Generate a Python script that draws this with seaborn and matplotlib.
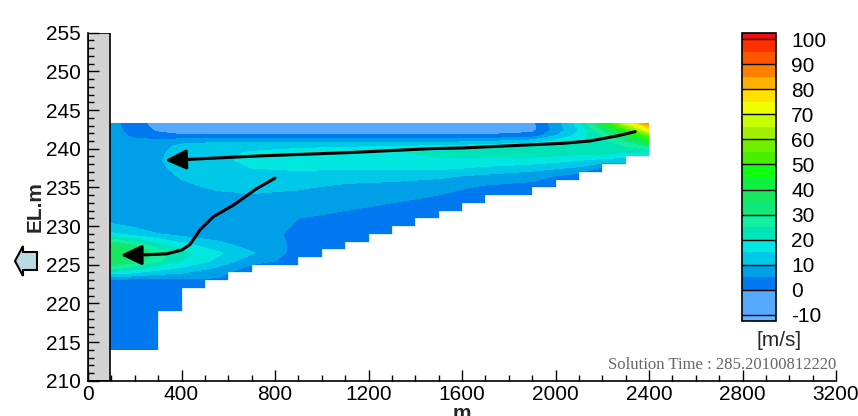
import numpy as np
import matplotlib
matplotlib.use('Agg')
import matplotlib.pyplot as plt
import seaborn as sns
from matplotlib.patches import Rectangle, Polygon
from matplotlib.ticker import MultipleLocator

# sample positions of the velocity field
dist_m = [95, 200, 300, 400, 550, 700, 900, 1100, 1300, 1500, 1700, 1900, 2100, 2200, 2300, 2400]
elev_m = [214, 220, 223, 224.5, 225.5, 226.5, 227.5, 229, 231, 233, 235, 236.5,
          237.5, 238.5, 239.5, 240.3, 241, 241.7, 242.4, 243.3]

# velocity [m/s], one list per distance, from the bottom up to the surface
vel_cols = [
    [3, 3, 3, 26, 38, 39, 36, 16, 7, 7, 7, 7, 7, 7, 7, 7, 7, 7, 7, 7],                       # 95
    [3, 3, 3, 22, 33, 36, 30, 12, 7, 7, 7, 7, 8, 8, 8, 8, 6, 4, 3, 2],                       # 200
    [3, 3, 3, 17, 26, 28, 22, 10, 7, 7, 7, 8, 9, 9.5, 9, 8, 6, 2, -1, -2],                   # 300
    [3, 3, 4, 14, 20, 22, 17, 8, 7, 7, 9, 10.5, 11.5, 12, 12, 11.5, 8, 0.5, -2.5, -3],       # 400
    [3, 3, 4, 9, 14, 16, 12, 7, 7, 8, 10.5, 12, 13, 14, 13.5, 12.5, 9, 0.5, -2.5, -3],       # 550
    [3, 3, 3, 3, 7, 10.5, 8, 7, 7, 8.5, 11, 13, 15, 16, 15.5, 13, 9, 0.5, -2.5, -3],         # 700
    [3, 3, 3, 3, 3, 3, 4, 4, 5, 7.5, 10.5, 13, 16, 17.5, 17, 14, 8.5, 0.5, -2.5, -3],        # 900
    [2, 2, 2, 2, 2, 2, 2, 3, 4, 6, 9, 12, 15.5, 18, 18, 14.5, 8.5, 0.5, -2.5, -3],           # 1100
    [2, 2, 2, 2, 2, 2, 2, 2, 3, 5, 8, 12, 16, 19, 19.5, 15, 8.5, 0.5, -2.5, -3],             # 1300
    [2, 2, 2, 2, 2, 2, 2, 2, 2, 3, 7, 11, 16, 19.5, 21, 16, 8, 0.5, -2.5, -3],               # 1500
    [2, 2, 2, 2, 2, 2, 2, 2, 2, 2, 4, 9, 14, 18.5, 22, 18, 9, 0.5, -2.5, -3],                # 1700
    [2, 2, 2, 2, 2, 2, 2, 2, 2, 2, 3, 7, 12, 18, 23, 20, 12, 2, -1.5, -1.5],                 # 1900
    [2, 2, 2, 2, 2, 2, 2, 2, 2, 2, 2, 3, 9, 15, 22, 22, 19, 17, 15, 17],                     # 2100
    [2, 2, 2, 2, 2, 2, 2, 2, 2, 2, 2, 2, 4, 13, 22, 23, 23, 25, 30, 42],                     # 2200
    [2, 2, 2, 2, 2, 2, 2, 2, 2, 2, 2, 2, 3, 12, 20, 25, 30, 38, 50, 68],                     # 2300
    [2, 2, 2, 2, 2, 2, 2, 2, 2, 2, 2, 2, 3, 12, 20, 30, 45, 55, 72, 88],                     # 2400
]

# stepped reservoir bed
bed_edges = [95, 300, 400, 500, 600, 700, 900, 1000, 1100, 1200, 1300, 1400, 1500,
             1600, 1700, 1900, 2000, 2100, 2200, 2300, 2400]
bed_elev = [214, 219, 222, 223, 224, 225, 226, 227, 228, 229, 230, 231, 232,
            233, 234, 235, 236, 237, 238, 239]

# sketched flow paths (last point = arrow tip)
flow_upper_x = [2341, 2262, 2148, 2034, 1891, 1749, 1606, 1463, 1121, 719, 419, 330]
flow_upper_z = [242.2, 241.65, 241.0, 240.7, 240.5, 240.3, 240.1, 240.0, 239.5, 239.05, 238.6, 238.5]
flow_lower_x = [800, 720, 622, 536, 479, 436, 401, 337, 222, 140]
flow_lower_z = [236.2, 234.8, 232.7, 231.2, 229.5, 227.6, 226.9, 226.4, 226.25, 226.25]

levels = [-12.5, -10, -5, 0, 5, 10, 15, 20, 25, 30, 35, 40, 45, 50, 55, 60,
          65, 70, 75, 80, 85, 90, 95, 100, 102.5]
band_colors = ['#66b2ff', '#55aaff', '#55aaff', '#0078f0', '#00a0e8', '#00c8e8',
               '#00e8e0', '#00e4b8', '#10f0a0', '#10e878', '#18e860', '#10f040',
               '#10ff10', '#48f000', '#70f000', '#a0f000', '#c8ff00', '#f0ff00',
               '#ffe000', '#ffb000', '#ff8000', '#ff5500', '#ff3000', '#ee1010']
cbar_ticks = [-10, 0, 10, 20, 30, 40, 50, 60, 70, 80, 90, 100]
x_ticks = [0, 400, 800, 1200, 1600, 2000, 2400, 2800, 3200]
y_ticks = [210, 215, 220, 225, 230, 235, 240, 245, 250, 255]

sns.set_style('ticks')
plt.rcParams['font.family'] = ['Liberation Sans', 'DejaVu Sans']
plt.rcParams['axes.unicode_minus'] = False

W, H = 858, 416
fig = plt.figure(figsize=(W / 100, H / 100), dpi=100)
ax = fig.add_axes([88 / W, 1 - 380.7 / H, 748 / W, 348 / H])

# velocity contours
X, Z = np.meshgrid(dist_m, elev_m)
V = np.array(vel_cols).T
cs = ax.contourf(X, Z, V, levels=levels, colors=band_colors)

# blank out everything below the bed
ax.fill_between(bed_edges, 205, bed_elev + [bed_elev[-1]], step='post',
                facecolor='white', edgecolor='white', lw=0.5, zorder=1.5)

# dam wall
ax.add_patch(Rectangle((0, 210), 95, 45, facecolor='#d3d3d3', edgecolor='k', lw=1.2, zorder=2))

# flow arrows
for fx, fz in [(flow_upper_x, flow_upper_z), (flow_lower_x, flow_lower_z)]:
    ax.plot(fx[:-1], fz[:-1], color='k', lw=2.2, zorder=3, solid_capstyle='round')
    ax.annotate('', xy=(fx[-1], fz[-1]), xytext=(fx[-2], fz[-2]),
                arrowprops=dict(arrowstyle='-|>,head_length=0.4,head_width=0.19',
                                mutation_scale=32, color='k', lw=2.2,
                                shrinkA=0, shrinkB=0), zorder=3)

ax.set_xlim(0, 3200)
ax.set_ylim(210, 255)
ax.set_xticks(x_ticks)
ax.set_yticks(y_ticks)
ax.xaxis.set_minor_locator(MultipleLocator(100))
ax.yaxis.set_minor_locator(MultipleLocator(1))
ax.tick_params(which='both', direction='in', color='k', width=1)
ax.tick_params(which='major', length=8, labelsize=15, labelcolor='k')
ax.tick_params(which='minor', length=4)
ax.tick_params(axis='x', pad=3)
ax.tick_params(axis='y', pad=5)
ax.set_axisbelow(False)
sns.despine(ax=ax)
for s in ['left', 'bottom']:
    ax.spines[s].set_color('k')
    ax.spines[s].set_linewidth(1.2)
    ax.spines[s].set_zorder(4)

ax.set_xlabel('m', fontsize=15, fontweight='bold', labelpad=0)
ax.set_ylabel('EL.m', fontsize=15, fontweight='bold', labelpad=1)

# outflow marker beside the axis
arrow_px = [(15, 261), (23, 246), (23, 252), (37, 252), (37, 270), (23, 270), (23, 276)]
fig.add_artist(Polygon([(px / W, 1 - py / H) for px, py in arrow_px], closed=True,
                       facecolor='#b9dce3', edgecolor='k', lw=1.5,
                       transform=fig.transFigure))

# colour legend
cax = fig.add_axes([742 / W, 1 - 321 / H, 34 / W, 288 / H])
cb = fig.colorbar(cs, cax=cax, spacing='proportional', ticks=cbar_ticks)
cb.outline.set_edgecolor('k')
cb.outline.set_linewidth(1.2)
cax.tick_params(length=0, labelsize=15, pad=11, labelcolor='k')
for t in cbar_ticks:
    cax.axhline(t, color='k', lw=1)
fig.text(779 / W, 1 - 341 / H, '[m/s]', ha='center', va='center', fontsize=15)

fig.text(836 / W, 1 - 365 / H, 'Solution Time : 285.20100812220', ha='right', va='center',
         family='Liberation Serif', color='#666666', fontsize=12)

fig.savefig('out.png', dpi=100)
